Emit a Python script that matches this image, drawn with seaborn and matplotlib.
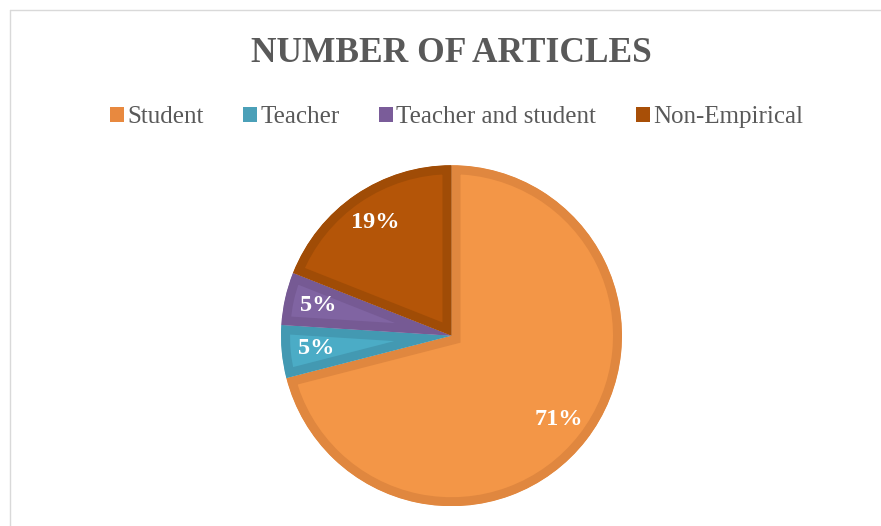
import matplotlib
matplotlib.use("Agg")
import matplotlib.pyplot as plt
from matplotlib.lines import Line2D
from matplotlib.patches import Patch, Wedge
import seaborn as sns

categories = ["Student", "Teacher", "Teacher and student", "Non-Empirical"]
shares = [71, 5, 5, 19]
title = "NUMBER OF ARTICLES"

fill_colors = ["#F39647", "#4BACC6", "#8064A2", "#B45508"]
edge_colors = ["#E0873F", "#4399B2", "#765A94", "#A04C06"]
legend_colors = ["#E8893F", "#4BA0B8", "#7A5C99", "#A84F07"]

sns.set_theme(style="white")
plt.rcParams["font.family"] = ["Liberation Serif", "DejaVu Serif"]

W, H = 881, 526
fig = plt.figure(figsize=(W / 100, H / 100), dpi=100)
fig.patch.set_facecolor("white")

# chart frame (top/left border visible)
fig.add_artist(Line2D([9.5 / W, 9.5 / W], [0, 1 - 9.5 / H], transform=fig.transFigure,
                      color="#D9D9D9", lw=1.0))
fig.add_artist(Line2D([9.5 / W, 1], [1 - 9.5 / H, 1 - 9.5 / H], transform=fig.transFigure,
                      color="#D9D9D9", lw=1.0))

cx, cy, r = 451.5, 335.7, 170.5
ax = fig.add_axes([(cx - r) / W, (H - cy - r) / H, 2 * r / W, 2 * r / H])
wedges, texts, autotexts = ax.pie(
    shares, colors=fill_colors, startangle=90, counterclock=False,
    radius=1.0, autopct="%1.0f%%", pctdistance=0.8,
    textprops=dict(color="white", fontsize=17.5, fontweight="bold"),
)
ax.set_xlim(-1, 1)
ax.set_ylim(-1, 1)
ax.set_aspect("equal")
ax.axis("off")

for w, ec in zip(wedges, edge_colors):
    clip = Wedge(w.center, w.r, w.theta1, w.theta2, transform=ax.transData)
    w.set_edgecolor(ec)
    w.set_linewidth(18 * 0.72)
    w.set_joinstyle("miter")
    w.set_clip_on(True)
    w.set_clip_path(clip)

fig.text(0.5 * (248 + 655) / W, 1 - 54 / H, title, ha="center", va="center",
         fontsize=25.5, fontweight="bold", color="#595959")

handles = [Patch(facecolor=c, edgecolor="none") for c in legend_colors]
fig.legend(handles, categories, loc="center", bbox_to_anchor=(456.5 / W, 1 - 117 / H),
           ncol=4, frameon=False, fontsize=18, handlelength=0.55, handleheight=0.55,
           handletextpad=0.12, columnspacing=1.6, labelcolor="#595959")

fig.savefig("out.png", dpi=100, facecolor="white")
